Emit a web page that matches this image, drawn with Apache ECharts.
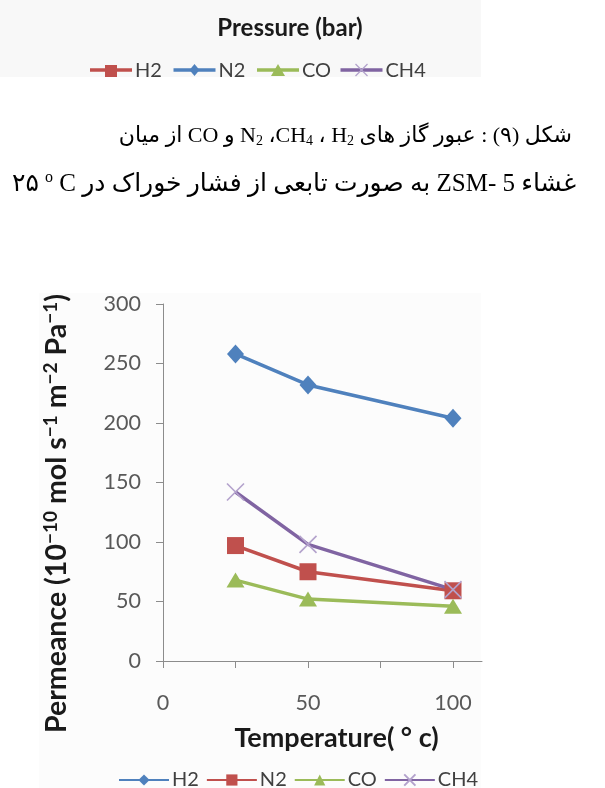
<!DOCTYPE html>
<html><head><meta charset="utf-8">
<script src="https://cdn.jsdelivr.net/npm/echarts@6/dist/echarts.min.js"></script>
<style>html,body{margin:0;padding:0;background:#fff}#c{width:605px;height:788px}</style>
</head><body><div id="c"></div>
<script>
// ---- data ----
const temperatures = [25, 50, 100];
const seriesNames = ['H2', 'N2', 'CO', 'CH4'];
const h2Values = [258, 232, 204];
const n2Values = [97, 75, 59];
const coValues = [68, 52, 46];
const ch4Values = [142, 98, 60];
const yMin = 0, yMax = 300, yStep = 50;
const xTickValues = [0, 25, 50, 75, 100];
const xLabelValues = [0, 50, 100];
// legend of the previous figure (cropped at the top of the page)
const topLegendNames = ['H2', 'N2', 'CO', 'CH4'];
const topTitle = 'Pressure (bar)';
const captionLine1 = 'میان\u200E از\u200E CO و\u200E N{sub|2} ،CH{sub|4} ، H{sub|2} های\u200E گاز\u200E عبور\u200E :\u200E (۹)\u200E شکل';
const captionLine2 = '۲۵ {sup|o} C در\u200E خوراک\u200E فشار\u200E از\u200E تابعی\u200E صورت\u200E به\u200E ZSM- 5 غشاء';
const yName = 'Permeance (10{sup|−10} mol s{sup|−1} m{sup|−2} Pa{sup|−1})';
const xName = 'Temperature( ° c)';

// ---- styles ----
const LF = 'Lato, "Open Sans", sans-serif';
const BLUE = '#4F81BD', RED = '#C0504D', GREEN = '#9BBB59', PURPLE = '#8064A2';
const X_PATH = 'path://M0,0L10,10M10,0L0,10';

const valuesByName = {H2: h2Values, N2: n2Values, CO: coValues, CH4: ch4Values};
const styleByName = {
  H2:  {color: BLUE, symbol: 'diamond', symbolSize: [17, 19]},
  N2:  {color: RED, symbol: 'rect', symbolSize: 17},
  CO:  {color: GREEN, symbol: 'triangle', symbolSize: [18, 15]},
  CH4: {color: PURPLE, symbol: X_PATH, symbolSize: 17, x: true}
};
// top legend (previous figure) colour mapping
const topStyle = {
  H2: {color: RED, symbol: 'rect'},
  N2: {color: BLUE, symbol: 'diamond'},
  CO: {color: GREEN, symbol: 'triangle'},
  CH4: {color: PURPLE, symbol: 'x'}
};

const series = seriesNames.map(name => {
  const st = styleByName[name];
  return {
    name, type: 'line',
    data: temperatures.map((t, i) => [t, valuesByName[name][i]]),
    symbol: st.symbol, symbolSize: st.symbolSize,
    lineStyle: {color: st.color, width: 3.5},
    itemStyle: st.x ? {color: 'rgba(0,0,0,0)', borderColor: '#b3a2cc', borderWidth: 1.6}
                    : {color: st.color, borderColor: st.color, borderWidth: 0},
    emphasis: {disabled: true},
    z: 3
  };
});

// graphic: background bands and the cropped legend of the previous figure
const graphics = [
  {type: 'rect', shape: {x: 0, y: 0, width: 481, height: 77}, style: {fill: '#f8f8f8'}, silent: true, z: -10},
  {type: 'rect', shape: {x: 39, y: 293, width: 442, height: 495}, style: {fill: '#fcfcfc'}, silent: true, z: -10},
  {type: 'text', style: {text: topTitle, x: 290, y: 28, align: 'center', verticalAlign: 'middle',
    font: 'bold 24px ' + LF, fill: '#1a1a1a'}}
];
topLegendNames.forEach((name, i) => {
  const x0 = 90 + i * 83.5, y0 = 70, st = topStyle[name];
  graphics.push({type: 'line', shape: {x1: x0, y1: y0, x2: x0 + 42, y2: y0}, style: {stroke: st.color, lineWidth: 3.5}});
  const cx = x0 + 21;
  if (st.symbol === 'rect') graphics.push({type: 'rect', shape: {x: cx - 6, y: y0 - 5, width: 12, height: 12}, style: {fill: st.color}});
  if (st.symbol === 'diamond') graphics.push({type: 'polygon', shape: {points: [[cx, y0 - 6], [cx + 5, y0], [cx, y0 + 6], [cx - 5, y0]]}, style: {fill: st.color}});
  if (st.symbol === 'triangle') graphics.push({type: 'polygon', shape: {points: [[cx, y0 - 6], [cx + 7, y0 + 6], [cx - 7, y0 + 6]]}, style: {fill: st.color}});
  if (st.symbol === 'x') graphics.push({type: 'polyline', shape: {points: [[cx - 6, y0 - 6], [cx + 6, y0 + 6]]}, style: {stroke: '#b3a2cc', lineWidth: 1.3}},
                                       {type: 'polyline', shape: {points: [[cx + 6, y0 - 6], [cx - 6, y0 + 6]]}, style: {stroke: '#b3a2cc', lineWidth: 1.3}});
  graphics.push({type: 'text', style: {text: name, x: x0 + 45, y: y0 + 1, align: 'left', verticalAlign: 'middle', font: '20px ' + LF, fill: '#404040'}});
});

function captionStyle(size) {
  return {
    fontFamily: '"Liberation Serif", "DejaVu Sans", serif', fontSize: size, fontWeight: 'normal', color: '#000', lineHeight: 32,
    rich: {
      sub: {fontFamily: '"Liberation Serif", serif', fontSize: Math.round(size * 0.63), padding: [10, 0, 0, 0]},
      sup: {fontFamily: '"Liberation Serif", serif', fontSize: Math.round(size * 0.63), padding: [0, 0, 13, 0]}
    }
  };
}

const option = {
  animation: false,
  backgroundColor: '#ffffff',
  title: [
    {text: captionLine1, right: 28, top: 115, textStyle: captionStyle(22)},
    {text: captionLine2, right: 24, top: 163, textStyle: captionStyle(25)}
  ],
  legend: {
    data: seriesNames, left: 113, top: 765, itemWidth: 50, itemHeight: 14, itemGap: 7,
    textStyle: {fontFamily: LF, fontSize: 20, color: '#404040', padding: [0, 0, 0, -2]},
    selectedMode: false
  },
  grid: {left: 163, right: 123, top: 304, bottom: 127, containLabel: false},
  xAxis: {
    type: 'value', min: 0, max: 110,
    name: xName, nameLocation: 'middle', nameGap: 64,
    nameTextStyle: {fontFamily: LF, fontSize: 27, fontWeight: 'bold', color: '#1a1a1a', padding: [0, 0, 0, 28]},
    axisLine: {show: true, lineStyle: {color: '#8c8c8c', width: 1}},
    axisTick: {show: true, customValues: xTickValues, length: 7, lineStyle: {color: '#8c8c8c'}},
    axisLabel: {customValues: xLabelValues, margin: 31, fontFamily: LF, fontSize: 21.5, color: '#595959'},
    splitLine: {show: false}
  },
  yAxis: {
    type: 'value', min: yMin, max: yMax, interval: yStep,
    name: yName, nameLocation: 'middle', nameGap: 90,
    nameTextStyle: {fontFamily: LF, fontSize: 28.5, fontWeight: 'bold', color: '#1a1a1a', padding: [0, 62, 0, 0],
      rich: {sup: {fontFamily: LF, fontSize: 19, fontWeight: 'bold', color: '#1a1a1a', padding: [0, 0, 13, 0]}}},
    axisLine: {show: true, lineStyle: {color: '#8c8c8c', width: 1}},
    axisTick: {show: true, length: 7, lineStyle: {color: '#8c8c8c'}},
    axisLabel: {margin: 22, fontFamily: LF, fontSize: 21.5, color: '#595959'},
    splitLine: {show: false}
  },
  graphic: graphics,
  series
};
const chart = echarts.init(document.getElementById('c'), null, {renderer: 'canvas'});
chart.setOption(option);
</script></body></html>
